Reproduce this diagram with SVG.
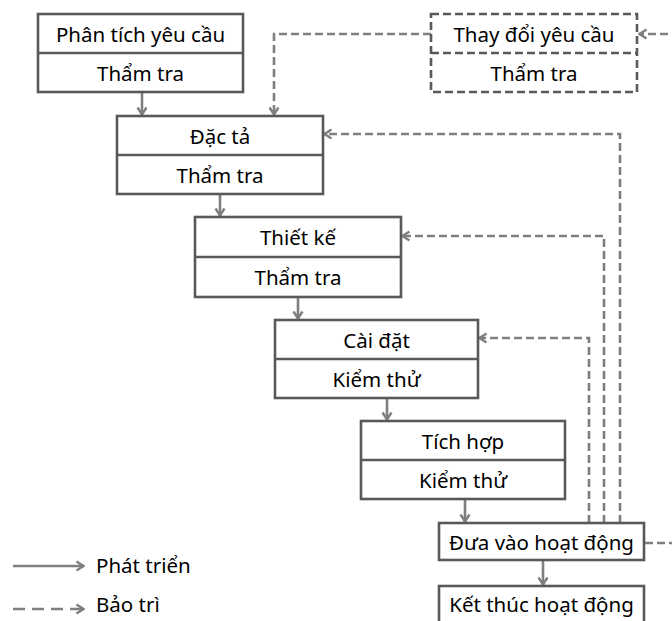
<svg xmlns="http://www.w3.org/2000/svg" width="672" height="621" viewBox="0 0 672 621">
<style>
.box{fill:#fff;stroke:#595959;stroke-width:2.6}
.dbox{fill:#fff;stroke:#595959;stroke-width:2.6;stroke-dasharray:8 4}
.div{stroke:#595959;stroke-width:2.6}
.ddiv{stroke:#595959;stroke-width:2.6;stroke-dasharray:8 4}
.t{font-family:"Noto Sans","Open Sans",sans-serif;font-size:20.5px;fill:#000;text-anchor:middle}
.lt{font-family:"Noto Sans","Open Sans",sans-serif;font-size:20.5px;fill:#000}
.s{fill:none;stroke:#7f7f7f;stroke-width:2.6}
.d{fill:none;stroke:#7f7f7f;stroke-width:2.6;stroke-dasharray:8 4}
.ld{fill:none;stroke:#7f7f7f;stroke-width:2.6;stroke-dasharray:12 7}
</style>
<defs>
<marker id="ah" viewBox="0 0 10 12" refX="9" refY="6" markerWidth="10" markerHeight="12" markerUnits="userSpaceOnUse" orient="auto">
<path d="M1.5,1.5 L8.5,6 L1.5,10.5" fill="none" stroke="#7f7f7f" stroke-width="2.4"/>
</marker>
</defs>
<rect width="672" height="621" fill="#fff"/>
<g id="connectors">
<path class="s" d="M142,92 V115" marker-end="url(#ah)"/>
<path class="s" d="M220,194 V216" marker-end="url(#ah)"/>
<path class="s" d="M298,297 V319" marker-end="url(#ah)"/>
<path class="s" d="M387,398 V420" marker-end="url(#ah)"/>
<path class="s" d="M465,499 V522" marker-end="url(#ah)"/>
<path class="s" d="M543,560 V585" marker-end="url(#ah)"/>
<path class="d" d="M431,34 H274 V115" marker-end="url(#ah)"/>
<path class="d" d="M620,523 V134 H324" marker-end="url(#ah)"/>
<path class="d" d="M604,523 V236 H402" marker-end="url(#ah)"/>
<path class="d" d="M589,523 V338 H479" marker-end="url(#ah)"/>
<path class="d" d="M645,543 H690 V34 H639" marker-end="url(#ah)"/>
<path class="s" d="M13,566 H84" marker-end="url(#ah)"/>
<path class="ld" d="M13,609 H84" marker-end="url(#ah)"/>
</g>
<g id="phan-tich">
<rect class="box" x="38" y="14" width="205" height="78"/>
<line class="div" x1="38" y1="53" x2="243" y2="53"/>
<text class="t" x="140.5" y="41.5">Phân tích yêu cầu</text>
<text class="t" x="140.5" y="80.5">Thẩm tra</text>
</g>
<g id="thay-doi">
<rect class="dbox" x="431" y="14" width="206" height="78"/>
<line class="ddiv" x1="431" y1="53" x2="637" y2="53"/>
<text class="t" x="534" y="41.5">Thay đổi yêu cầu</text>
<text class="t" x="534" y="80.5">Thẩm tra</text>
</g>
<g id="dac-ta">
<rect class="box" x="117" y="116" width="206" height="78"/>
<line class="div" x1="117" y1="155" x2="323" y2="155"/>
<text class="t" x="220" y="143.5">Đặc tả</text>
<text class="t" x="220" y="182.5">Thẩm tra</text>
</g>
<g id="thiet-ke">
<rect class="box" x="195" y="217" width="206" height="80"/>
<line class="div" x1="195" y1="257" x2="401" y2="257"/>
<text class="t" x="298" y="244.5">Thiết kế</text>
<text class="t" x="298" y="284.5">Thẩm tra</text>
</g>
<g id="cai-dat">
<rect class="box" x="275" y="320" width="203" height="78"/>
<line class="div" x1="275" y1="359" x2="478" y2="359"/>
<text class="t" x="376.5" y="347.5">Cài đặt</text>
<text class="t" x="376.5" y="386.5">Kiểm thử</text>
</g>
<g id="tich-hop">
<rect class="box" x="361" y="421" width="204" height="78"/>
<line class="div" x1="361" y1="460" x2="565" y2="460"/>
<text class="t" x="463" y="448.5">Tích hợp</text>
<text class="t" x="463" y="487.5">Kiểm thử</text>
</g>
<g id="dua-vao">
<rect class="box" x="439" y="523" width="205" height="37"/>
<text class="t" x="541.5" y="550">Đưa vào hoạt động</text>
</g>
<g id="ket-thuc">
<rect class="box" x="439" y="586" width="205" height="50"/>
<text class="t" x="541.5" y="612">Kết thúc hoạt động</text>
</g>
<g id="legend">
<text class="lt" x="96" y="573">Phát triển</text>
<text class="lt" x="96" y="612">Bảo trì</text>
</g>
</svg>
